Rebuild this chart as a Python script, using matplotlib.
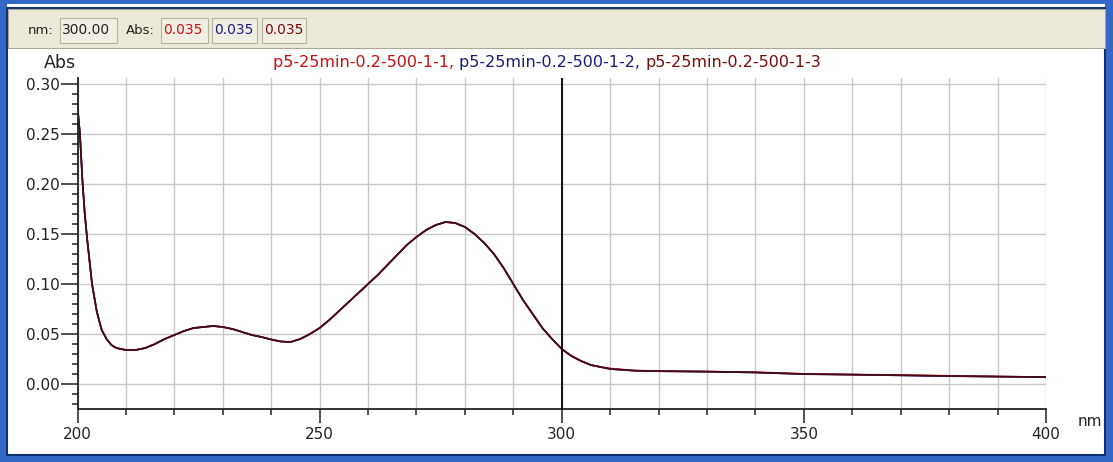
import matplotlib

matplotlib.use("Agg")

import matplotlib.pyplot as plt
from matplotlib.patches import Rectangle
from matplotlib.ticker import MultipleLocator


# UV-Vis spectrum, three replicate scans
wavelength_nm = [
    200, 200.5, 201, 201.5, 202, 203, 204, 205, 206, 207, 208, 210,
    212, 214, 216, 218, 220, 222, 224, 226, 228, 230, 232, 234, 236,
    238, 240, 242, 244, 246, 248, 250, 252, 254, 256, 258, 260, 262,
    264, 266, 268, 270, 272, 274, 276, 278, 280, 282, 284, 286, 288,
    290, 292, 294, 296, 298, 300, 302, 304, 306, 308, 310, 315, 320,
    330, 340, 350, 360, 370, 380, 390, 400,
]

abs_1 = [
    0.278, 0.250, 0.205, 0.170, 0.145, 0.100, 0.072, 0.054, 0.045,
    0.039, 0.036, 0.034, 0.034, 0.036, 0.040, 0.045, 0.049, 0.053,
    0.056, 0.057, 0.058, 0.057, 0.055, 0.052, 0.049, 0.047, 0.0445,
    0.0425, 0.042, 0.045, 0.050, 0.056, 0.064, 0.073, 0.082, 0.091,
    0.100, 0.109, 0.119, 0.129, 0.139, 0.147, 0.154, 0.159, 0.162,
    0.161, 0.157, 0.150, 0.141, 0.130, 0.116, 0.100, 0.084, 0.070,
    0.056, 0.045, 0.035, 0.028, 0.023, 0.019, 0.017, 0.0155, 0.0135,
    0.013, 0.0125, 0.0118, 0.0102, 0.0095, 0.009, 0.0082, 0.0075, 0.0068,
]

abs_2 = [
    0.276, 0.251, 0.204, 0.171, 0.144, 0.100, 0.072, 0.054, 0.045,
    0.039, 0.036, 0.034, 0.034, 0.036, 0.040, 0.045, 0.049, 0.053,
    0.056, 0.057, 0.058, 0.057, 0.055, 0.052, 0.049, 0.047, 0.0445,
    0.0425, 0.042, 0.045, 0.050, 0.056, 0.064, 0.073, 0.082, 0.091,
    0.100, 0.109, 0.119, 0.129, 0.139, 0.147, 0.154, 0.159, 0.162,
    0.161, 0.157, 0.150, 0.141, 0.130, 0.116, 0.100, 0.084, 0.070,
    0.056, 0.045, 0.035, 0.028, 0.023, 0.019, 0.017, 0.015, 0.0133,
    0.0128, 0.0124, 0.0115, 0.0098, 0.0094, 0.0086, 0.0078, 0.0074, 0.007,
]

abs_3 = [
    0.277, 0.250, 0.205, 0.170, 0.145, 0.100, 0.072, 0.054, 0.045,
    0.039, 0.036, 0.034, 0.034, 0.036, 0.040, 0.045, 0.049, 0.053,
    0.056, 0.057, 0.058, 0.057, 0.055, 0.052, 0.049, 0.047, 0.0445,
    0.0425, 0.042, 0.045, 0.050, 0.056, 0.064, 0.073, 0.082, 0.091,
    0.100, 0.109, 0.119, 0.129, 0.139, 0.147, 0.154, 0.159, 0.162,
    0.161, 0.157, 0.150, 0.141, 0.130, 0.116, 0.100, 0.084, 0.070,
    0.056, 0.045, 0.035, 0.028, 0.023, 0.019, 0.017, 0.015, 0.0133,
    0.0128, 0.0123, 0.0115, 0.010, 0.0093, 0.0087, 0.008, 0.0074, 0.0069,
]

series_names = [
    "p5-25min-0.2-500-1-1",
    "p5-25min-0.2-500-1-2",
    "p5-25min-0.2-500-1-3",
]
series_colors = ["#cc1010", "#1c1c80", "#7a0a0a"]
line_colors = ["#cc1010", "#1c1c80", "#4a0a10"]

cursor_nm = 300.00
cursor_abs = [0.035, 0.035, 0.035]

W, H = 1113, 462


def fx(px):
    return px / W


def fy(py):
    # image rows are counted from the top
    return 1 - py / H


def draw_frame(fig):
    blue = "#3468c8"
    dark = "#10306e"
    # side, top and bottom borders of the window
    for x0, y0, w, h in [
        (0, 0, 7, H),
        (1105, 0, 8, H),
        (0, 455, W, 7),
        (0, 0, W, 4),
    ]:
        fig.patches.append(
            Rectangle(
                (fx(x0), fy(y0 + h)), fx(w), h / H,
                transform=fig.transFigure, facecolor=blue,
                edgecolor="none", zorder=0,
            )
        )
    # thin dark inner edge
    fig.patches.append(
        Rectangle(
            (fx(7), fy(455)), fx(1098), 447 / H,
            transform=fig.transFigure, facecolor="none",
            edgecolor=dark, linewidth=1.5, zorder=1,
        )
    )

    # toolbar strip
    fig.patches.append(
        Rectangle(
            (fx(8), fy(48)), fx(1097), 39 / H,
            transform=fig.transFigure, facecolor="#ece9d8",
            edgecolor="#aca899", linewidth=0.8, zorder=1,
        )
    )

    text_y = fy(30)
    fig.text(fx(28), text_y, "nm:", fontsize=9.5, va="center",
             color="#222222")
    boxes = [
        (60, 117, f"{cursor_nm:.2f}", "#222222"),
        (161, 208, f"{cursor_abs[0]:.3f}", series_colors[0]),
        (212, 257, f"{cursor_abs[1]:.3f}", series_colors[1]),
        (262, 306, f"{cursor_abs[2]:.3f}", series_colors[2]),
    ]
    for left, right, label, color in boxes:
        fig.patches.append(
            Rectangle(
                (fx(left), fy(43)), fx(right - left), 25 / H,
                transform=fig.transFigure, facecolor="#f1efe4",
                edgecolor="#b8b4a2", linewidth=0.8, zorder=2,
            )
        )
        fig.text(fx(left + 2), text_y, label, fontsize=10,
                 va="center", color=color, zorder=3)
    fig.text(fx(126), text_y, "Abs:", fontsize=9.5, va="center",
             color="#222222")


def draw_spectrum(fig):
    ax = fig.add_axes([fx(77.5), fy(409), fx(1046 - 77.5), (409 - 78) / H])
    ax.set_facecolor("white")

    for values, color in zip([abs_1, abs_2, abs_3], line_colors):
        ax.plot(wavelength_nm, values, color=color, linewidth=1.2)

    ax.axvline(cursor_nm, color="black", linewidth=1.3, zorder=4)

    ax.set_xlim(200, 400)
    ax.set_ylim(-0.025, 0.306)

    ax.xaxis.set_major_locator(MultipleLocator(50))
    ax.xaxis.set_minor_locator(MultipleLocator(10))
    ax.yaxis.set_minor_locator(MultipleLocator(0.01))
    ax.set_yticks([0.0, 0.05, 0.10, 0.15, 0.20, 0.25, 0.30])
    ax.yaxis.set_major_formatter(lambda v, _: f"{v:.2f}")

    ax.grid(which="minor", axis="x", color="#c8c8c8", linewidth=1)
    ax.grid(which="major", axis="x", color="#c8c8c8", linewidth=1)
    ax.grid(which="major", axis="y", color="#c8c8c8", linewidth=1)
    ax.set_axisbelow(True)

    for side in ["top", "right"]:
        ax.spines[side].set_visible(False)
    for side in ["left", "bottom"]:
        ax.spines[side].set_color("#222222")
        ax.spines[side].set_linewidth(1.3)

    ax.tick_params(axis="y", which="major", length=12, width=1.1,
                   pad=1, labelsize=11, color="#222222",
                   labelcolor="#222222")
    ax.tick_params(axis="y", which="minor", length=4.3, width=1.1,
                   color="#222222")
    ax.tick_params(axis="x", which="major", length=10, width=1.1,
                   pad=3, labelsize=11, color="#222222",
                   labelcolor="#222222")
    ax.tick_params(axis="x", which="minor", length=4.3, width=1.1,
                   color="#222222")

    fig.text(fx(60), fy(63), "Abs", fontsize=12.5, ha="center",
             va="center", color="#222222")
    fig.text(fx(1090), fy(422), "nm", fontsize=11, ha="center",
             va="center", color="#222222")

    # multi-coloured title, pieces chained left to right
    piece = fig.text(fx(273), fy(63), series_names[0] + ", ",
                     fontsize=11.5, va="center", color=series_colors[0])
    for i, name in enumerate(series_names[1:], start=1):
        label = name + (", " if i < len(series_names) - 1 else "")
        piece = ax.annotate(
            label, xy=(1, 0), xycoords=piece, va="bottom", ha="left",
            fontsize=11.5, color=series_colors[i], annotation_clip=False,
        )

    return ax


def main():
    fig = plt.figure(figsize=(W / 100, H / 100), dpi=100, facecolor="white")
    draw_frame(fig)
    draw_spectrum(fig)
    fig.savefig("out.png", dpi=100, facecolor=fig.get_facecolor())
    plt.close(fig)


if __name__ == "__main__":
    main()
